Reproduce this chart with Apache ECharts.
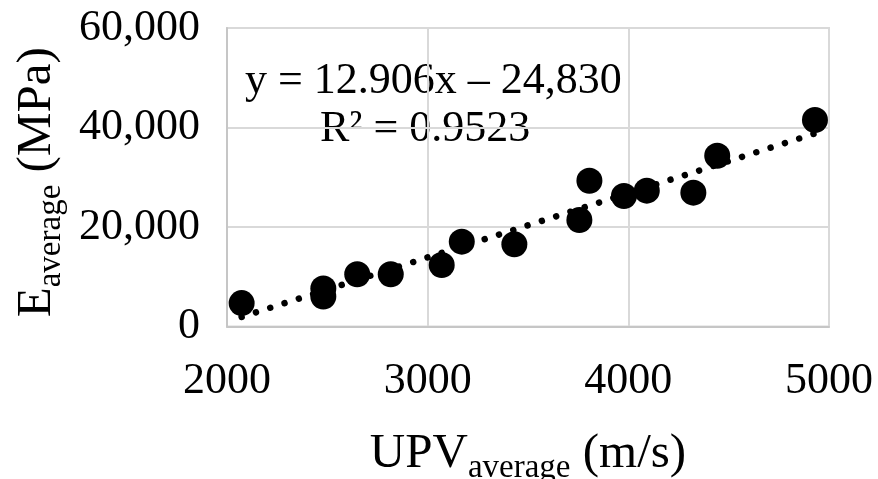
<!DOCTYPE html>
<html>
<head>
<meta charset="utf-8">
<script src="https://cdn.jsdelivr.net/npm/echarts@6/dist/echarts.min.js"></script>
<style>
  html, body { margin: 0; padding: 0; background: #fff; }
  #chart { width: 878px; height: 479px; }
</style>
</head>
<body>
<div id="chart"></div>
<script>
// UPV average (m/s)
const upvValues = [2073, 2480, 2480, 2649, 2816, 3070, 3170, 3432, 3756, 3806, 3978, 4092, 4324, 4443, 4930];
// E average (MPa)
const eValues   = [4700, 6030, 7640, 10490, 10490, 12360, 17050, 16520, 21400, 29310, 26230, 27300, 26900, 34330, 41500];
// Trendline as reported on the chart
const trendSlope = 12.906;
const trendIntercept = -24830;
const xTicks = [2000, 3000, 4000, 5000];
const yTicks = [0, 20000, 40000, 60000];
const equationText = 'y = 12.906x \u2013 24,830';
const r2Text = 'R\u00B2 = 0.9523';

const FONT = '"Liberation Serif", "Times New Roman", serif';

const points = upvValues.map((x, i) => [x, eValues[i]]);
const xMin = Math.min(...upvValues), xMax = Math.max(...upvValues);
const trend = [[xMin, trendSlope * xMin + trendIntercept], [xMax, trendSlope * xMax + trendIntercept]];

const chart = echarts.init(document.getElementById('chart'), null, { renderer: 'canvas' });
chart.setOption({
  animation: false,
  backgroundColor: '#ffffff',
  grid: {
    left: 227, right: 49, top: 28, bottom: 152.5,
    containLabel: false,
    outerBoundsMode: 'none',
    show: true, borderColor: '#d9d9d9', borderWidth: 2, backgroundColor: 'transparent'
  },
  xAxis: {
    type: 'value',
    min: xTicks[0], max: xTicks[xTicks.length - 1], interval: xTicks[1] - xTicks[0],
    axisLine: { show: true, lineStyle: { color: '#c6c6c6', width: 2 } },
    axisTick: { show: false },
    splitLine: { show: true, lineStyle: { color: '#d9d9d9', width: 2 } },
    axisLabel: { margin: 33, color: '#000', fontFamily: FONT, fontSize: 44, formatter: v => String(v) },
    name: '{a|UPV}{b|average}{a| (m/s)}',
    nameLocation: 'middle',
    nameGap: 103,
    nameTextStyle: {
      rich: {
        a: { fontFamily: FONT, fontSize: 49, lineHeight: 50, color: '#000' },
        b: { fontFamily: FONT, fontSize: 33, lineHeight: 33, color: '#000', padding: [28, 0, 0, 0] }
      }
    }
  },
  yAxis: {
    type: 'value',
    min: yTicks[0], max: yTicks[yTicks.length - 1], interval: yTicks[1] - yTicks[0],
    axisLine: { show: true, lineStyle: { color: '#c6c6c6', width: 2 } },
    axisTick: { show: false },
    splitLine: { show: true, lineStyle: { color: '#d9d9d9', width: 2 } },
    axisLabel: {
      margin: 27, color: '#000', fontFamily: FONT, fontSize: 44,
      formatter: v => v.toLocaleString('en-US')
    },
    name: '{a|E}{b|average}{a| (MPa)}',
    nameLocation: 'middle',
    nameGap: 160,
    nameTextStyle: {
      padding: [0, 10, 0, 0],
      rich: {
        a: { fontFamily: FONT, fontSize: 49, lineHeight: 50, color: '#000' },
        b: { fontFamily: FONT, fontSize: 33, lineHeight: 33, color: '#000', padding: [28, 0, 0, 0] }
      }
    }
  },
  series: [
    {
      type: 'scatter',
      data: points,
      symbol: 'circle',
      symbolSize: 26,
      itemStyle: { color: '#000', opacity: 1 },
      z: 2
    },
    {
      type: 'line',
      data: trend,
      showSymbol: false,
      symbol: 'none',
      silent: true,
      lineStyle: { color: '#000', width: 6.5, type: [0.01, 15], cap: 'round' },
      z: 3
    }
  ],
  graphic: [
    {
      type: 'text', left: 245, top: 59,
      style: { text: equationText, fontFamily: FONT, fontSize: 44, fill: '#000' }
    },
    {
      type: 'text', left: 320, top: 107,
      style: { text: r2Text, fontFamily: FONT, fontSize: 44, fill: '#000' }
    }
  ]
});
</script>
</body>
</html>
